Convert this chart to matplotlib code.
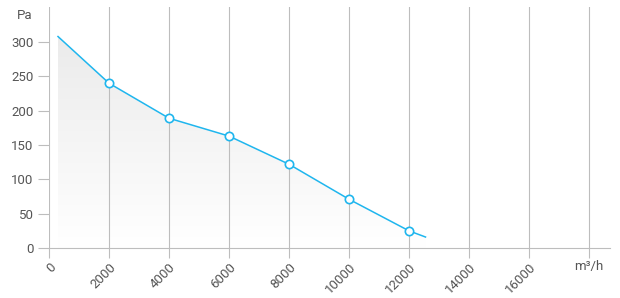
import numpy as np
from matplotlib import pyplot as plt
from matplotlib.patches import Polygon

plt.rcParams['font.family'] = ['Roboto', 'DejaVu Sans']

# curve
flow = [300, 2000, 4000, 6000, 8000, 10000, 12000, 12550]
pressure = [308, 240, 189, 163, 122, 71, 25, 16]
marker_flow = [2000, 4000, 6000, 8000, 10000, 12000]
marker_pressure = [240, 189, 163, 122, 71, 25]

x_ticks = [0, 2000, 4000, 6000, 8000, 10000, 12000, 14000, 16000, 18000]
x_labels = ['0', '2000', '4000', '6000', '8000', '10000', '12000', '14000', '16000', '']
y_ticks = [0, 50, 100, 150, 200, 250, 300]

grid_c = '#bdbdbd'
text_c = '#555555'
line_c = '#1fb6ee'

fig = plt.figure(figsize=(6.2, 2.98), dpi=100)
ax = fig.add_axes([49 / 620, 50 / 298, 561 / 620, 241 / 298])

# gradient under the curve
grad = np.linspace(0, 1, 256).reshape(-1, 1)
cmap = plt.matplotlib.colors.LinearSegmentedColormap.from_list('g', ['#ffffff', '#ebebeb'])
img = ax.imshow(grad, cmap=cmap, origin='lower', aspect='auto',
                extent=[0, 13000, 0, 310], zorder=1)
poly = Polygon(list(zip(flow, pressure)) + [(flow[-1], 0), (flow[0], 0)],
               closed=True, facecolor='none', edgecolor='none')
ax.add_patch(poly)
img.set_clip_path(poly)
ax.set_xlim(0, 18700)
ax.set_ylim(0, 351)

ax.plot(flow, pressure, color=line_c, lw=1.1, zorder=3)
ax.plot(marker_flow, marker_pressure, ls='none', marker='o', ms=6,
        mfc='white', mec=line_c, mew=1.2, zorder=4)

ax.set_xticks(x_ticks)
ax.set_xticklabels(x_labels, rotation=45, ha='right', va='top', rotation_mode='anchor')
ax.set_yticks(y_ticks)
ax.grid(axis='x', color=grid_c, lw=0.8, zorder=0)
ax.tick_params(axis='x', length=7, width=0.8, color=grid_c, labelcolor=text_c, labelsize=9.5, pad=2)
ax.tick_params(axis='y', length=8, width=0.8, color=grid_c, labelcolor=text_c, labelsize=9.5, pad=3)
for s in ['top', 'right', 'left']:
    ax.spines[s].set_visible(False)
ax.spines['bottom'].set_color(grid_c)
ax.spines['bottom'].set_linewidth(0.8)

ax.text(-0.03, 339, 'Pa', transform=ax.get_yaxis_transform(), ha='right', va='center',
        color=text_c, fontsize=9.5)
ax.text(18000, -27, 'm³/h', ha='center', va='center', color=text_c, fontsize=9.5)

fig.savefig('out.png', dpi=100)
